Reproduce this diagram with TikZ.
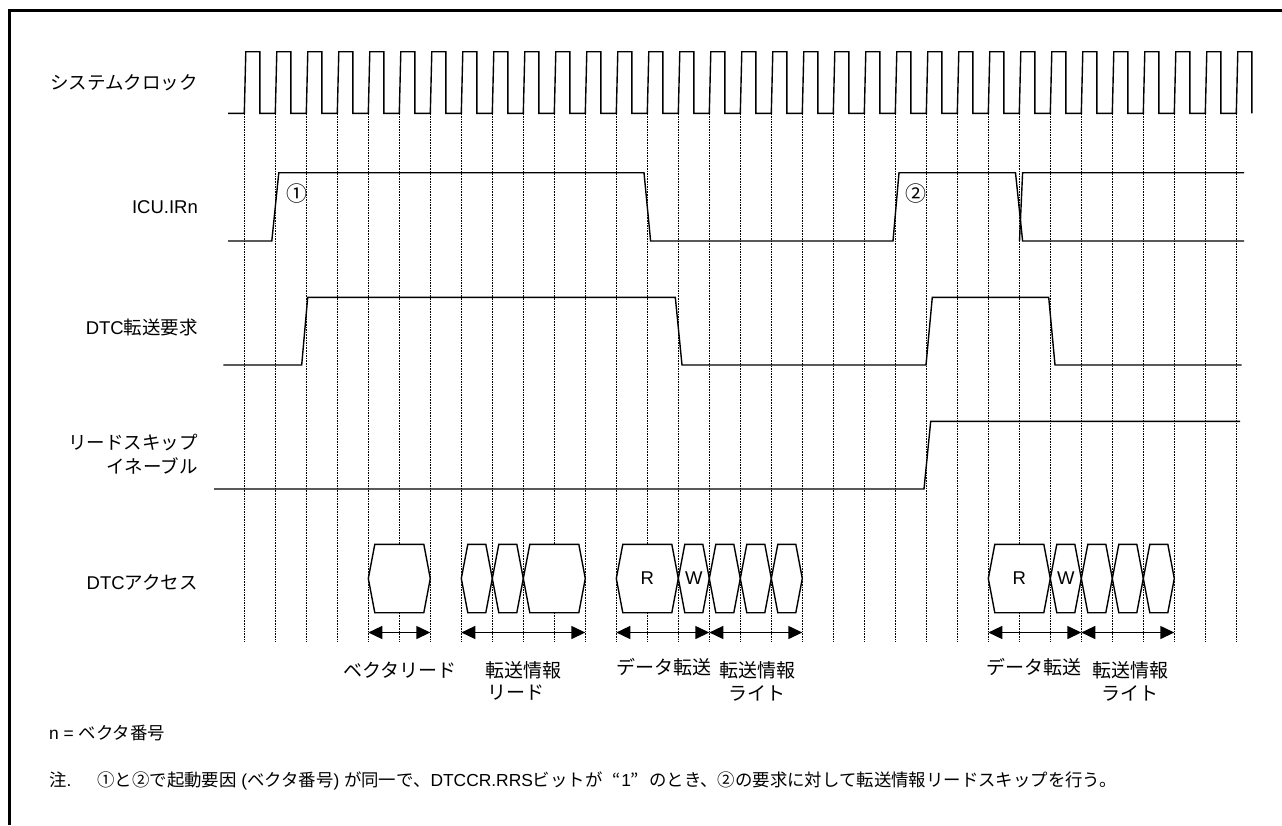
\documentclass[tikz,border=0pt]{standalone}
\usepackage{fontspec}
\setmainfont{Liberation Sans}
\newfontfamily\jp{Noto Sans CJK JP}
\usetikzlibrary{arrows.meta}
\newcommand\ek[1]{244.3+31*#1}
\begin{document}
\begin{tikzpicture}[x=1pt,y=-1pt,line join=miter,
  sig/.style={line width=1.4pt},
  gridline/.style={line width=0.8pt,dash pattern=on 1.6pt off 1pt},
  hexa/.style={line width=1.4pt,fill=white},
  span/.style={line width=1.4pt,{Triangle[length=14pt,width=13pt]}-{Triangle[length=14pt,width=13pt]}},
  lab/.style={inner sep=0pt,font=\fontsize{18.5}{24}\selectfont},
  jlab/.style={inner sep=0pt,font=\jp\fontsize{18.5}{24}\selectfont},
  spanlab/.style={inner sep=0pt,font=\jp\fontsize{19}{24}\selectfont},
  notelab/.style={inner sep=0pt,font=\fontsize{17.4}{22}\selectfont},
  circmark/.style={inner sep=0pt,font=\jp\fontsize{21}{24}\selectfont},
]
\useasboundingbox (0,0) rectangle (1282,825);
\fill[white] (0,0) rectangle (1282,825);
% frame
\draw[line width=3pt] (9,825) -- (9,10.5) -- (1282,10.5);

% grid lines at rising clock edges
\foreach \k in {0,...,32} \draw[gridline] ({\ek{\k}},113.3) -- ({\ek{\k}},641.7);

% system clock
\draw[sig] (228,113.3) \foreach \k in {0,...,32} { -- ({\ek{\k}},113.3) -- ({\ek{\k}+1.5},51.7) -- ({\ek{\k}+15.5},51.7) -- ({\ek{\k}+15.5},113.3) };

% ICU.IRn
\draw[sig] (228,241) -- (271.8,241) -- (278.8,172.7) -- (644,172.7) -- (650.6,241) -- (893,241) -- (899,172.7) -- (1015.5,172.7) -- (1022.6,241) -- (1244,241);
\draw[sig] (1019.5,241) -- (1022.6,172.7) -- (1244,172.7);

% DTC transfer request
\draw[sig] (223.3,365) -- (301.7,365) -- (307.7,297.3) -- (675.3,297.3) -- (682,365) -- (926,365) -- (932.3,297.3) -- (1048.7,297.3) -- (1055,365) -- (1241.7,365);

% read skip enable
\draw[sig] (214,489) -- (924,489) -- (930.7,421.3) -- (1240,421.3);

% DTC access hexagons
\foreach \a/\b in {4/6,7/8,8/9,9/11,12/14,14/15,15/16,16/17,17/18,24/26,26/27,27/28,28/29,29/30}
  \draw[hexa] ({\ek{\a}},578.5) -- ({\ek{\a}+6.5},544.3) -- ({\ek{\b}-6.5},544.3) -- ({\ek{\b}},578.5) -- ({\ek{\b}-6.5},612.7) -- ({\ek{\a}+6.5},612.7) -- cycle;

\node[lab] (r1) at ({\ek{13}},578.5) {R};
\node[lab] (w1) at ({\ek{14.5}},578.5) {W};
\node[lab] (r2) at ({\ek{25}},578.5) {R};
\node[lab] (w2) at ({\ek{26.5}},578.5) {W};

% span arrows
\foreach \a/\b in {4/6,7/11,12/15,15/18,24/27,27/30}
  \draw[span] ({\ek{\a}},632.5) -- ({\ek{\b}},632.5);

% span labels
\node[spanlab] (t1) at (400,670) {ベクタリード};
\node[spanlab] (t2) at (523,670) {転送情報};
\node[spanlab] (t2b) at (516,693) {リード};
\node[spanlab] (t3) at (664,667) {データ転送};
\node[spanlab] (t4) at (757,670) {転送情報};
\node[spanlab] (t4b) at (757,693) {ライト};
\node[spanlab] (t5) at (1034,667) {データ転送};
\node[spanlab] (t6) at (1130,670) {転送情報};
\node[spanlab] (t6b) at (1130,693) {ライト};

% circled markers
\node[circmark] (c1) at (296.7,194) {①};
\node[circmark] (c2) at (916,193.5) {②};

% signal names
\node[jlab,anchor=east] (lclk) at (198,83) {システムクロック};
\node[lab,anchor=east] (licu) at (198,207) {ICU.IRn};
\node[lab,anchor=east] (lreq) at (198,327) {DTC{\jp 転送要求}};
\node[jlab,anchor=east,align=right] (lrs) at (198,454) {リードスキップ\\イネーブル};
\node[lab,anchor=east] (lacc) at (198,582) {DTC{\jp アクセス}};

% notes
\node[notelab,anchor=west] (nvec) at (49,733) {n = {\jp ベクタ番号}};
\node[notelab,anchor=west] (note) at (49,781) {{\jp 注}.\hspace{26pt}{\jp ①と②で起動要因} ({\jp ベクタ番号}) {\jp が同一で、}DTCCR.RRS{\jp ビットが\hspace{0.6em}“}1{\jp ”\hspace{0.6em}のとき、②の要求に対して転送情報リードスキップを行う。}};
\end{tikzpicture}
\end{document}
